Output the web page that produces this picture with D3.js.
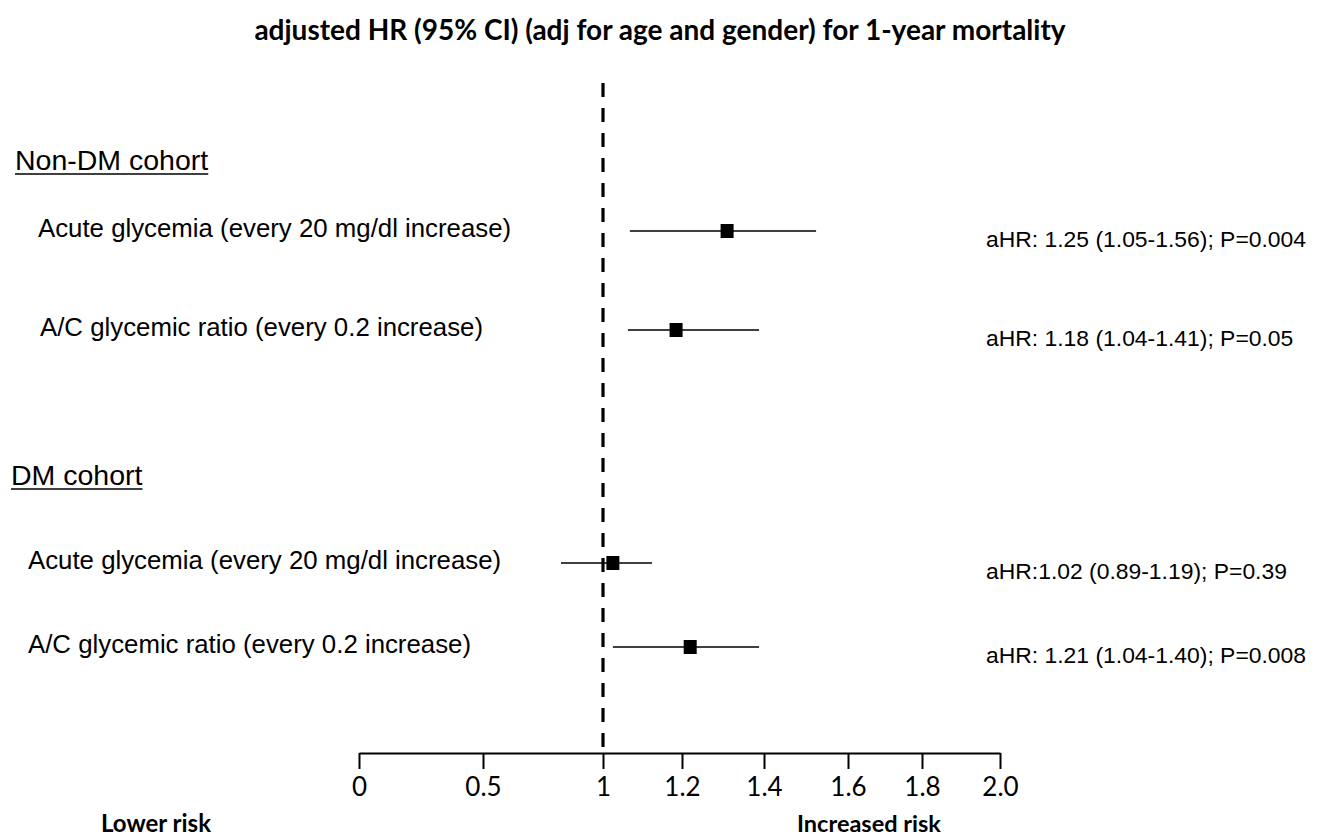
<!DOCTYPE html>
<html>
<head>
<meta charset="utf-8">
<script src="https://cdn.jsdelivr.net/npm/d3@7"></script>
<style>
  body { margin: 0; background: #fff; }
  text { fill: #000; }
</style>
</head>
<body>
<div id="chart"></div>
<script>
// Values
var cohorts = ["Non-DM cohort", "DM cohort"];
var rowLabels = [
  "Acute glycemia (every 20 mg/dl increase)",
  "A/C glycemic ratio (every 0.2 increase)",
  "Acute glycemia (every 20 mg/dl increase)",
  "A/C glycemic ratio (every 0.2 increase)"
];
// point estimates and CI ends as plotted (positions on the drawn axis)
var hr = [1.31, 1.185, 1.025, 1.22];
var ciLow = [1.068, 1.063, 0.825, 1.025];
var ciHigh = [1.524, 1.388, 1.124, 1.388];
var annotations = [
  "aHR: 1.25 (1.05-1.56); P=0.004",
  "aHR: 1.18 (1.04-1.41); P=0.05",
  "aHR:1.02 (0.89-1.19); P=0.39",
  "aHR: 1.21 (1.04-1.40); P=0.008"
];
var tickValues = [0, 0.5, 1, 1.2, 1.4, 1.6, 1.8, 2.0];
var tickLabels = ["0", "0.5", "1", "1.2", "1.4", "1.6", "1.8", "2.0"];

var width = 1322, height = 839;

var svg = d3.select("#chart").append("svg")
  .attr("width", width)
  .attr("height", height);

// the original axis is not evenly spaced, so map each tick to where it was drawn
var x = d3.scaleLinear()
  .domain(tickValues)
  .range([359, 483, 603, 682, 764, 848, 922, 1000]);

var rowKeys = ["h0", "r0", "r1", "h1", "r2", "r3"];
var y = d3.scaleOrdinal()
  .domain(rowKeys)
  .range([160, 231, 330, 475, 563, 647]);

var axisY = 753;
var sans = "'Liberation Sans', Arial, sans-serif";
var calibri = "Lato, 'Open Sans', sans-serif";

// title
svg.append("text")
  .attr("x", 660)
  .attr("y", 40)
  .attr("text-anchor", "middle")
  .style("font-family", calibri)
  .style("font-weight", "bold")
  .style("font-size", "28px")
  .text("adjusted HR (95% CI) (adj for age and gender) for 1-year mortality");

// reference line at HR = 1
svg.append("line")
  .attr("x1", x(1)).attr("x2", x(1))
  .attr("y1", 83).attr("y2", axisY)
  .attr("stroke", "#000")
  .attr("stroke-width", 3.2)
  .attr("stroke-dasharray", "14,11");

// cohort headings, underlined
var headX = [15, 11];
cohorts.forEach(function(c, i) {
  var t = svg.append("text")
    .attr("x", headX[i])
    .attr("y", y("h" + i))
    .attr("dominant-baseline", "central")
    .style("font-family", sans)
    .style("font-size", "28.5px")
    .text(c);
  var w = t.node().getComputedTextLength();
  svg.append("line")
    .attr("x1", headX[i])
    .attr("x2", headX[i] + w)
    .attr("y1", y("h" + i) + 14)
    .attr("y2", y("h" + i) + 14)
    .attr("stroke", "#000")
    .attr("stroke-width", 1.5);
});

var labelX = [38, 40, 28, 28];

var rows = svg.selectAll(".row")
  .data(rowLabels)
  .enter().append("g")
  .attr("class", "row");

rows.append("text")
  .attr("x", function(d, i) { return labelX[i]; })
  .attr("y", function(d, i) { return y("r" + i) - 3; })
  .attr("dominant-baseline", "central")
  .style("font-family", sans)
  .style("font-size", "25.8px")
  .text(function(d) { return d; });

// confidence intervals
rows.append("line")
  .attr("x1", function(d, i) { return x(ciLow[i]); })
  .attr("x2", function(d, i) { return x(ciHigh[i]); })
  .attr("y1", function(d, i) { return y("r" + i); })
  .attr("y2", function(d, i) { return y("r" + i); })
  .attr("stroke", "#000")
  .attr("stroke-width", 1.6);

// point estimates
rows.append("rect")
  .attr("x", function(d, i) { return x(hr[i]) - 6.5; })
  .attr("y", function(d, i) { return y("r" + i) - 7; })
  .attr("width", 13)
  .attr("height", 14)
  .attr("fill", "#000");

rows.append("text")
  .attr("x", 986)
  .attr("y", function(d, i) { return y("r" + i) + 8; })
  .attr("dominant-baseline", "central")
  .style("font-family", sans)
  .style("font-size", "22.9px")
  .text(function(d, i) { return annotations[i]; });

// x axis
var axis = d3.axisBottom(x)
  .tickValues(tickValues)
  .tickFormat(function(d, i) { return tickLabels[i]; })
  .tickSize(16)
  .tickSizeOuter(0)
  .tickPadding(9);

var gx = svg.append("g")
  .attr("transform", "translate(0," + axisY + ")")
  .call(axis);

gx.select(".domain").attr("stroke", "#000").attr("stroke-width", 2);
gx.selectAll(".tick line").attr("stroke", "#000").attr("stroke-width", 2);
gx.selectAll(".tick text")
  .style("font-family", calibri)
  .style("font-size", "26px")
  .attr("fill", "#000");

svg.append("text")
  .attr("x", 156)
  .attr("y", 832)
  .attr("text-anchor", "middle")
  .style("font-family", calibri)
  .style("font-weight", "bold")
  .style("font-size", "24px")
  .text("Lower risk");

svg.append("text")
  .attr("x", 869)
  .attr("y", 832)
  .attr("text-anchor", "middle")
  .style("font-family", calibri)
  .style("font-weight", "bold")
  .style("font-size", "23.5px")
  .text("Increased risk");
</script>
</body>
</html>
